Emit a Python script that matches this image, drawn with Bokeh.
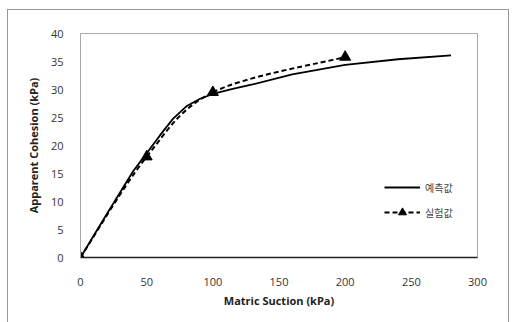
from bokeh.plotting import figure
from bokeh.models import FixedTicker, Legend, LegendItem, Range1d
from bokeh.embed import file_html
from bokeh.resources import INLINE

# Predicted (예측값)
pred_x = [0, 20, 40, 50, 60, 70, 80, 90, 100, 115, 130, 160, 200, 240, 280]
pred_y = [0, 7.8, 15.5, 18.6, 21.8, 24.8, 27.0, 28.3, 29.2, 30.1, 30.9, 32.7, 34.4, 35.4, 36.1]
# Experimental (실험값)
exp_x = [0, 50, 100, 200]
exp_y = [0, 18.0, 29.5, 35.8]

x_ticks = [0, 50, 100, 150, 200, 250, 300]
y_ticks = [0, 5, 10, 15, 20, 25, 30, 35, 40]


def smooth_segments(xs, ys):
    """Excel-style smoothed line: cubic Bezier control points (Catmull-Rom, 1/6)."""
    n = len(xs)
    seg = dict(x0=[], y0=[], x1=[], y1=[], cx0=[], cy0=[], cx1=[], cy1=[])
    for i in range(n - 1):
        i0, i3 = max(i - 1, 0), min(i + 2, n - 1)
        seg["x0"].append(xs[i]); seg["y0"].append(ys[i])
        seg["x1"].append(xs[i + 1]); seg["y1"].append(ys[i + 1])
        seg["cx0"].append(xs[i] + (xs[i + 1] - xs[i0]) / 6)
        seg["cy0"].append(ys[i] + (ys[i + 1] - ys[i0]) / 6)
        seg["cx1"].append(xs[i + 1] - (xs[i3] - xs[i]) / 6)
        seg["cy1"].append(ys[i + 1] - (ys[i3] - ys[i]) / 6)
    return seg


p = figure(width=502, height=314, output_backend="svg", toolbar_location=None,
           x_range=Range1d(0, 300), y_range=Range1d(0, 40),
           min_border_left=72, min_border_right=33, min_border_top=23, min_border_bottom=67)
p.styles = {"border": "1px solid #999999", "margin-left": "7px", "margin-top": "9px"}
p.grid.visible = False
p.outline_line_color = "#aaaaaa"
p.outline_line_width = 1

for ax in (p.xaxis[0], p.yaxis[0]):
    ax.major_tick_line_color = None
    ax.minor_tick_line_color = None
    ax.major_label_text_font = "Open Sans"
    ax.major_label_text_font_size = "11px"
    ax.major_label_text_color = "#333333"
    ax.axis_label_text_font = "Open Sans"
    ax.axis_label_text_font_style = "bold"
    ax.axis_label_text_font_size = "11px"
    ax.axis_label_text_color = "#222222"

p.xaxis.ticker = FixedTicker(ticks=x_ticks)
p.yaxis.ticker = FixedTicker(ticks=y_ticks)
p.xaxis.axis_label = "Matric Suction (kPa)"
p.yaxis.axis_label = "Apparent Cohesion (kPa)"
p.xaxis.axis_line_color = "#222222"
p.xaxis.axis_line_width = 1.5
p.yaxis.axis_line_color = "#aaaaaa"
p.xaxis.major_label_standoff = 14
p.yaxis.major_label_standoff = 11
p.xaxis.axis_label_standoff = 4
p.yaxis.axis_label_standoff = 7

r_pred = p.line(pred_x, pred_y, line_color="black", line_width=1.8)
seg = smooth_segments(exp_x, exp_y)
r_exp_line = p.bezier(x0="x0", y0="y0", x1="x1", y1="y1", cx0="cx0", cy0="cy0",
                      cx1="cx1", cy1="cy1", source=seg,
                      line_color="black", line_width=2, line_dash="5 3")
r_exp_pts = p.scatter(exp_x, exp_y, marker="triangle", size=11, color="black")

legend = Legend(items=[LegendItem(label="예측값", renderers=[r_pred]),
                       LegendItem(label="실험값", renderers=[r_exp_line, r_exp_pts])],
                location=(304, 35))
legend.border_line_color = None
legend.background_fill_alpha = 0
legend.label_text_font = "Noto Sans CJK KR"
legend.label_text_font_size = "10px"
legend.label_text_color = "#444444"
legend.glyph_width = 36
legend.spacing = 5
p.add_layout(legend)

open("out.html", "w").write(file_html(p, INLINE))
